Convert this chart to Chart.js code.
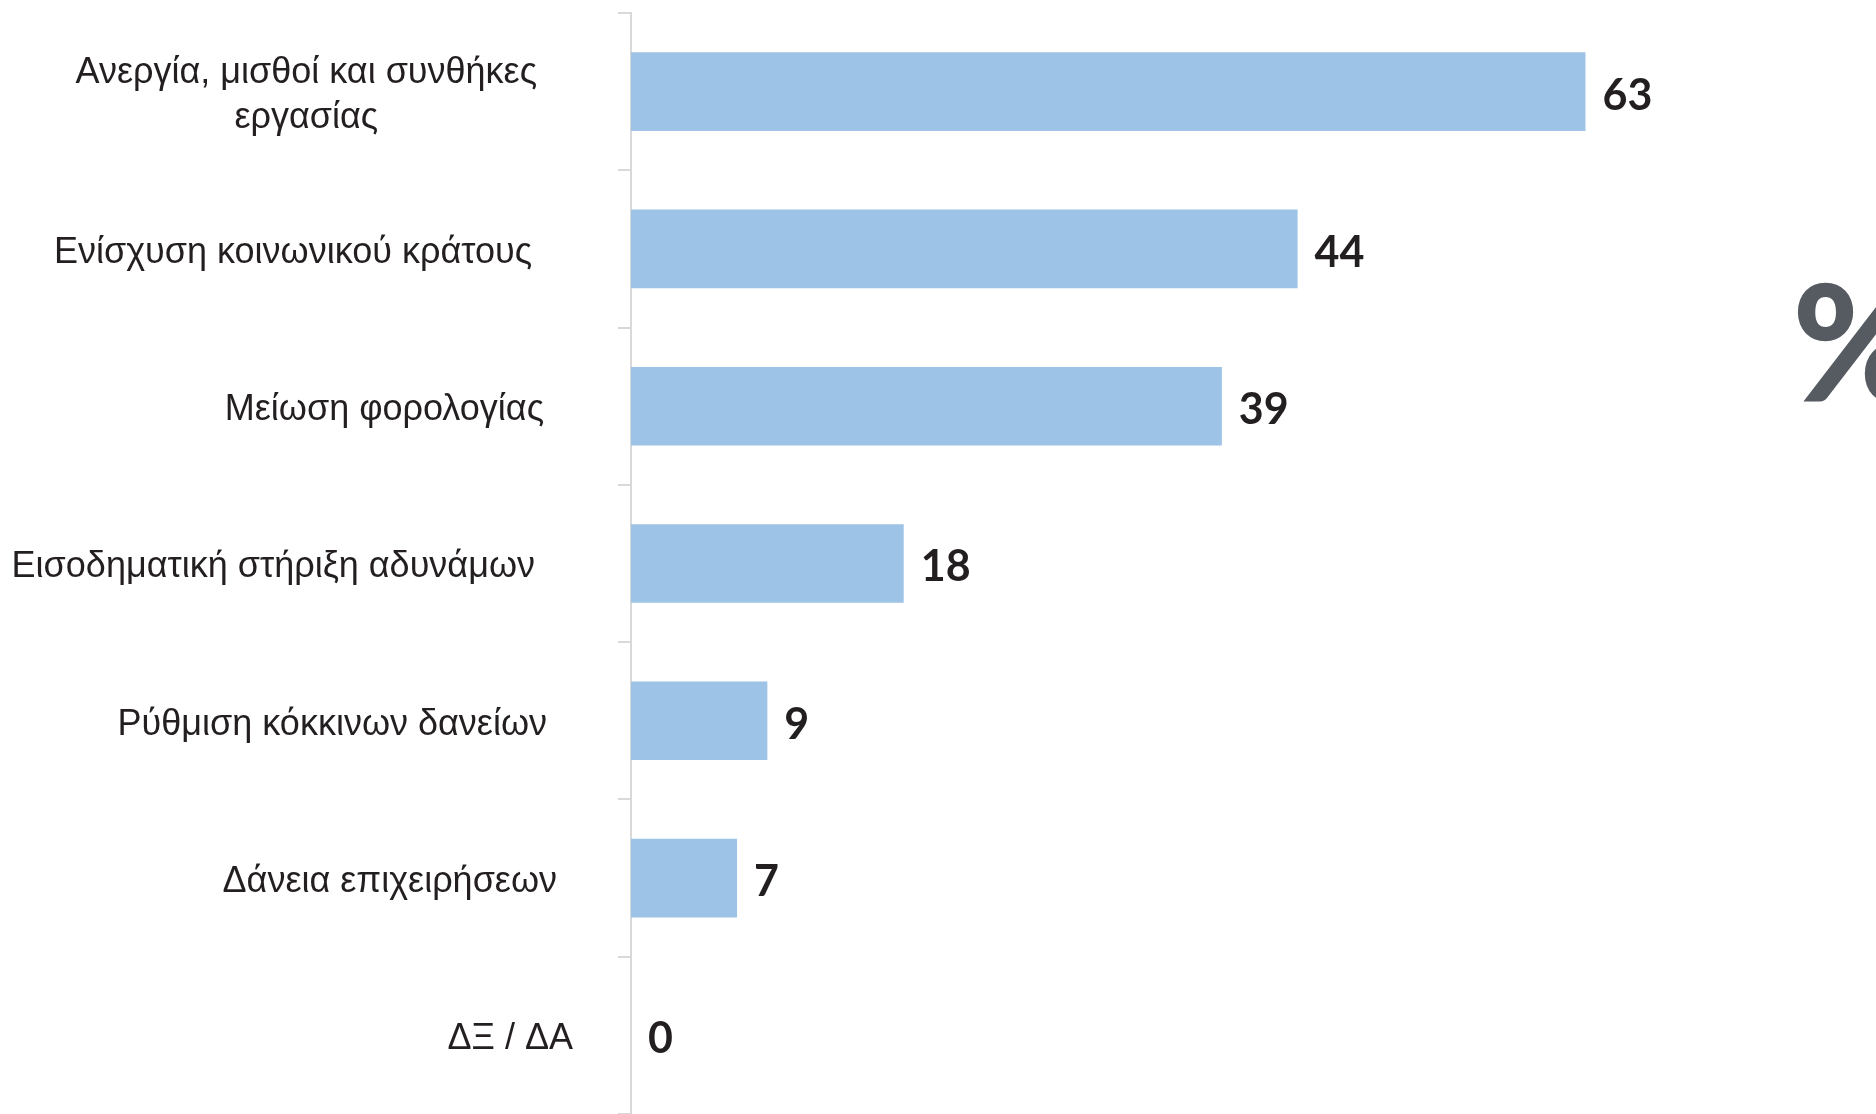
<!DOCTYPE html>
<html>
<head>
<meta charset="utf-8">
<script src="https://cdn.jsdelivr.net/npm/chart.js@4.4.0/dist/chart.umd.min.js"></script>
<style>
html,body{margin:0;padding:0;background:#fff;overflow:hidden}
#wrap{position:relative;width:1876px;height:1114px}
</style>
</head>
<body>
<div id="wrap"><canvas id="chart" width="1876" height="1114"></canvas></div>
<script>
var categories = [
	['Ανεργία, μισθοί και συνθήκες', 'εργασίας'],
	'Ενίσχυση κοινωνικού κράτους',
	'Μείωση φορολογίας',
	'Εισοδηματική στήριξη αδυνάμων',
	'Ρύθμιση κόκκινων δανείων',
	'Δάνεια επιχειρήσεων',
	'ΔΞ / ΔΑ'
];
var values = [63, 44, 39, 18, 9, 7, 0];
var unitLabel = '%';
var xMax = 80;

// the category names are not lined up on one edge in the original
var labelNudge = [0, -5, 7, -2, 10, 20, 36];
var textColor = '#231f20';

// draws category names, value labels and the big % sign
var labelPlugin = {
	id: 'labelPlugin',
	afterDatasetsDraw: function(chart){
		var ctx = chart.ctx;
		var meta = chart.getDatasetMeta(0);
		var yScale = chart.scales.y;
		ctx.save();
		ctx.fillStyle = textColor;
		ctx.textBaseline = 'middle';

		ctx.font = 'bold 43px Lato';
		ctx.textAlign = 'left';
		meta.data.forEach(function(bar, i){
			ctx.fillText(String(values[i]), bar.x + 17, bar.y + 4);
		});

		ctx.font = '36px "Liberation Sans"';
		ctx.textAlign = 'center';
		var rightEdge = yScale.right - 94;
		categories.forEach(function(lab, i){
			var lines = Array.isArray(lab) ? lab : [lab];
			var w = 0;
			for (var k = 0; k < lines.length; k++) {
				w = Math.max(w, ctx.measureText(lines[k]).width);
			}
			var cx = rightEdge + labelNudge[i] - w / 2;
			var yc = yScale.getPixelForValue(i) + 4;
			for (var k = 0; k < lines.length; k++) {
				ctx.fillText(lines[k], cx, yc + (k - (lines.length - 1) / 2) * 45);
			}
		});

		ctx.fillStyle = '#565b62';
		ctx.font = '900 162px Lato';
		ctx.textAlign = 'left';
		ctx.textBaseline = 'alphabetic';
		ctx.fillText(unitLabel, chart.width - 84, 402);
		ctx.restore();
	}
};

var config = {
	type: 'bar',
	data: {
		labels: categories,
		datasets: [{
			data: values,
			backgroundColor: '#9dc3e6',
			barPercentage: 1,
			categoryPercentage: 0.5
		}]
	},
	options: {
		indexAxis: 'y',
		responsive: false,
		animation: false,
		devicePixelRatio: 1,
		layout: {
			padding: {top: 13, right: 33, bottom: 0, left: 0}
		},
		plugins: {
			legend: {display: false},
			tooltip: {enabled: false}
		},
		scales: {
			x: {
				display: false,
				min: 0,
				max: xMax
			},
			y: {
				grid: {
					drawOnChartArea: false,
					color: '#d9d9d9',
					lineWidth: 2,
					tickLength: 13
				},
				border: {color: '#d9d9d9', width: 2},
				ticks: {display: false},
				afterFit: function(scale){
					scale.width = 631;
				}
			}
		}
	},
	plugins: [labelPlugin]
};

var ctx = document.getElementById('chart').getContext('2d');
window.myBar = new Chart(ctx, config);
</script>
</body>
</html>
